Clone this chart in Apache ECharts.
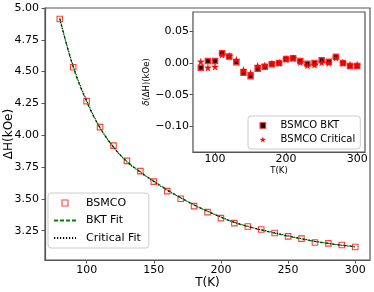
<!DOCTYPE html>
<html>
<head>
<meta charset="utf-8">
<script src="https://cdn.jsdelivr.net/npm/echarts@6/dist/echarts.min.js"></script>
<style>html,body{margin:0;padding:0;background:#fff}#c{width:374px;height:292px}</style>
</head>
<body>
<div id="c"></div>
<script>
// Data
const temps = [80,90,100,110,120,130,140,150,160,170,180,190,200,210,220,230,240,250,260,270,280,290,300];
const dH = [4.914,4.535,4.268,4.064,3.919,3.799,3.718,3.636,3.561,3.501,3.443,3.396,3.349,3.310,3.283,3.260,3.232,3.206,3.188,3.158,3.151,3.138,3.122];
const bktFit = [4.921,4.535,4.265,4.058,3.908,3.795,3.713,3.640,3.572,3.510,3.453,3.403,3.357,3.316,3.283,3.256,3.231,3.207,3.186,3.166,3.150,3.137,3.125];
const critFit = [4.911,4.545,4.274,4.060,3.907,3.791,3.709,3.635,3.567,3.508,3.452,3.403,3.357,3.316,3.285,3.258,3.234,3.210,3.188,3.167,3.150,3.135,3.123];
const resBKT = [-0.0075,0.003,0.003,0.015,0.010,0.001,-0.0155,-0.021,-0.009,-0.006,-0.002,0.000,0.006,0.0075,0.003,-0.0015,0.000,0.004,0.002,0.0095,0.000,-0.005,-0.005];
const resCrit = [0.002,-0.0075,-0.006,0.013,0.011,0.005,-0.011,-0.016,-0.0045,-0.004,-0.001,0.000,0.006,0.0075,0.001,-0.004,-0.003,0.001,0.000,0.008,0.000,-0.003,-0.003];
const mainXTicks = [100,150,200,250,300];
const mainYTicks = [3.25,3.50,3.75,4.00,4.25,4.50,4.75,5.00];
const insetXTicks = [100,200,300];
const insetYTicks = [-0.10,-0.05,0.00,0.05];

const pair = (xs, ys) => xs.map((x, i) => [x, ys[i]]);
const F = 'DejaVu Sans';
const AX = '#555';
const star = 'path://M50,0 L61,35 L98,35 L68,57 L79,91 L50,70 L21,91 L32,57 L2,35 L39,35 Z';
const square = 'path://M0,0 L10,0 L10,10 L0,10 Z';
const fmtY = v => (v < 0 ? '\u2212' : '') + Math.abs(v).toFixed(2);

function xAx(grid, ticks, min, max, name, nameGap, nameSize, margin, moveOverlap) {
  return {
    type: 'value', gridIndex: grid, min: min, max: max,
    axisLine: { show: true, onZero: false, lineStyle: { color: AX, width: 1.2 } },
    axisTick: { show: true, customValues: ticks, length: 3.5, lineStyle: { color: AX } },
    axisLabel: { customValues: ticks, fontFamily: F, fontSize: 11, color: '#000', margin: margin },
    splitLine: { show: false },
    name: name, nameLocation: 'middle', nameGap: nameGap, nameMoveOverlap: moveOverlap,
    nameTextStyle: { fontFamily: F, fontSize: nameSize, color: '#000' }
  };
}
function yAx(grid, ticks, min, max, name, nameGap, nameSize, margin, moveOverlap, rich) {
  return {
    type: 'value', gridIndex: grid, min: min, max: max,
    axisLine: { show: true, onZero: false, lineStyle: { color: AX, width: 1.2 } },
    axisTick: { show: true, customValues: ticks, length: 3.5, lineStyle: { color: AX } },
    axisLabel: { customValues: ticks, fontFamily: F, fontSize: 11, color: '#000', margin: margin, formatter: fmtY },
    splitLine: { show: false },
    name: name, nameLocation: 'middle', nameGap: nameGap, nameRotate: 90, nameMoveOverlap: moveOverlap,
    nameTextStyle: { fontFamily: F, fontSize: nameSize, color: '#000', rich: rich }
  };
}

const chart = echarts.init(document.getElementById('c'), null, { renderer: 'canvas' });
chart.setOption({
  animation: false,
  backgroundColor: '#fff',
  grid: [
    { left: 45, right: 4, top: 8, bottom: 32, show: true, borderColor: AX, borderWidth: 1.2, backgroundColor: 'transparent', containLabel: false, outerBoundsMode: 'none' },
    { left: 193, right: 9, top: 12, bottom: 140, show: true, borderColor: AX, borderWidth: 1.2, backgroundColor: '#fff', z: 5, containLabel: false, outerBoundsMode: 'none' }
  ],
  xAxis: [
    xAx(0, mainXTicks, 69, 311, 'T(K)', 17, 12, 5, false),
    xAx(1, insetXTicks, 69, 311, 'T(K)', 14, 8.5, 2, true)
  ],
  yAxis: [
    yAx(0, mainYTicks, 3.02, 5.0, '\u0394H(kOe)', 30, 12, 6, false),
    yAx(1, insetYTicks, -0.14, 0.08, '{i|\u03b4}(\u0394H)(kOe)', 38, 8.5, 4, true,
        { i: { fontFamily: F, fontSize: 8.5, fontStyle: 'italic', color: '#000' } })
  ],
  legend: [
    {
      left: 48, top: 193, orient: 'vertical', itemWidth: 22, itemHeight: 6, itemGap: 6.5,
      padding: [4.5, 8, 4.5, 5], borderColor: '#ccc', borderWidth: 1, borderRadius: 3,
      backgroundColor: 'rgba(255,255,255,0.8)', z: 20, symbolKeepAspect: true,
      textStyle: { fontFamily: F, fontSize: 11, color: '#000', padding: [0, 0, 0, 5] },
      data: [
        { name: 'BSMCO', icon: square, itemStyle: { color: 'rgba(255,255,255,0)', borderColor: '#ff4040', borderWidth: 1.1 } },
        { name: 'BKT Fit', itemStyle: { opacity: 0 } },
        { name: 'Critical Fit', itemStyle: { opacity: 0 } }
      ]
    },
    {
      left: 248, top: 116, orient: 'vertical', itemWidth: 5.5, itemHeight: 5.5, itemGap: 4,
      padding: [4.5, 5, 4.5, 11.5], borderColor: '#ccc', borderWidth: 1, borderRadius: 3,
      backgroundColor: 'rgba(255,255,255,0.8)', z: 20,
      textStyle: { fontFamily: F, fontSize: 10, color: '#000', padding: [0, 0, 0, 10] },
      data: [
        { name: 'BSMCO BKT', icon: 'rect', itemStyle: { color: '#000', borderColor: '#ff2a2a', borderWidth: 1.2 } },
        { name: 'BSMCO Critical', icon: star, itemStyle: { color: '#ff0000', borderColor: '#e00000', borderWidth: 0.3 } }
      ]
    }
  ],
  series: [
    {
      name: 'BSMCO', type: 'line', xAxisIndex: 0, yAxisIndex: 0, data: pair(temps, dH),
      symbol: 'rect', symbolSize: 5.5, showSymbol: true,
      lineStyle: { width: 0, opacity: 0 },
      itemStyle: { color: 'rgba(255,255,255,0)', borderColor: '#ff4040', borderWidth: 1.1 },
      z: 2
    },
    {
      name: 'BKT Fit', type: 'line', xAxisIndex: 0, yAxisIndex: 0, data: pair(temps, bktFit),
      symbol: 'none', smooth: 0.4, color: '#008000',
      lineStyle: { color: '#008000', width: 1.3, type: [4, 2] }, z: 3
    },
    {
      name: 'Critical Fit', type: 'line', xAxisIndex: 0, yAxisIndex: 0, data: pair(temps, critFit),
      symbol: 'none', smooth: 0.4, color: '#000',
      lineStyle: { color: '#000', width: 1.1, type: [1.2, 1.8] }, z: 4
    },
    {
      name: 'BSMCO BKT', type: 'line', xAxisIndex: 1, yAxisIndex: 1, data: pair(temps, resBKT),
      symbol: 'rect', symbolSize: 5, showSymbol: true,
      lineStyle: { width: 0, opacity: 0 },
      itemStyle: { color: '#000', borderColor: '#ff2a2a', borderWidth: 1.5 }, z: 6
    },
    {
      name: 'BSMCO Critical', type: 'line', xAxisIndex: 1, yAxisIndex: 1, data: pair(temps, resCrit),
      symbol: star, symbolSize: 7, showSymbol: true,
      lineStyle: { width: 0, opacity: 0 },
      itemStyle: { color: '#ff0000', borderColor: '#e00000', borderWidth: 0.3 }, z: 7
    }
  ]
});
</script>
</body>
</html>
